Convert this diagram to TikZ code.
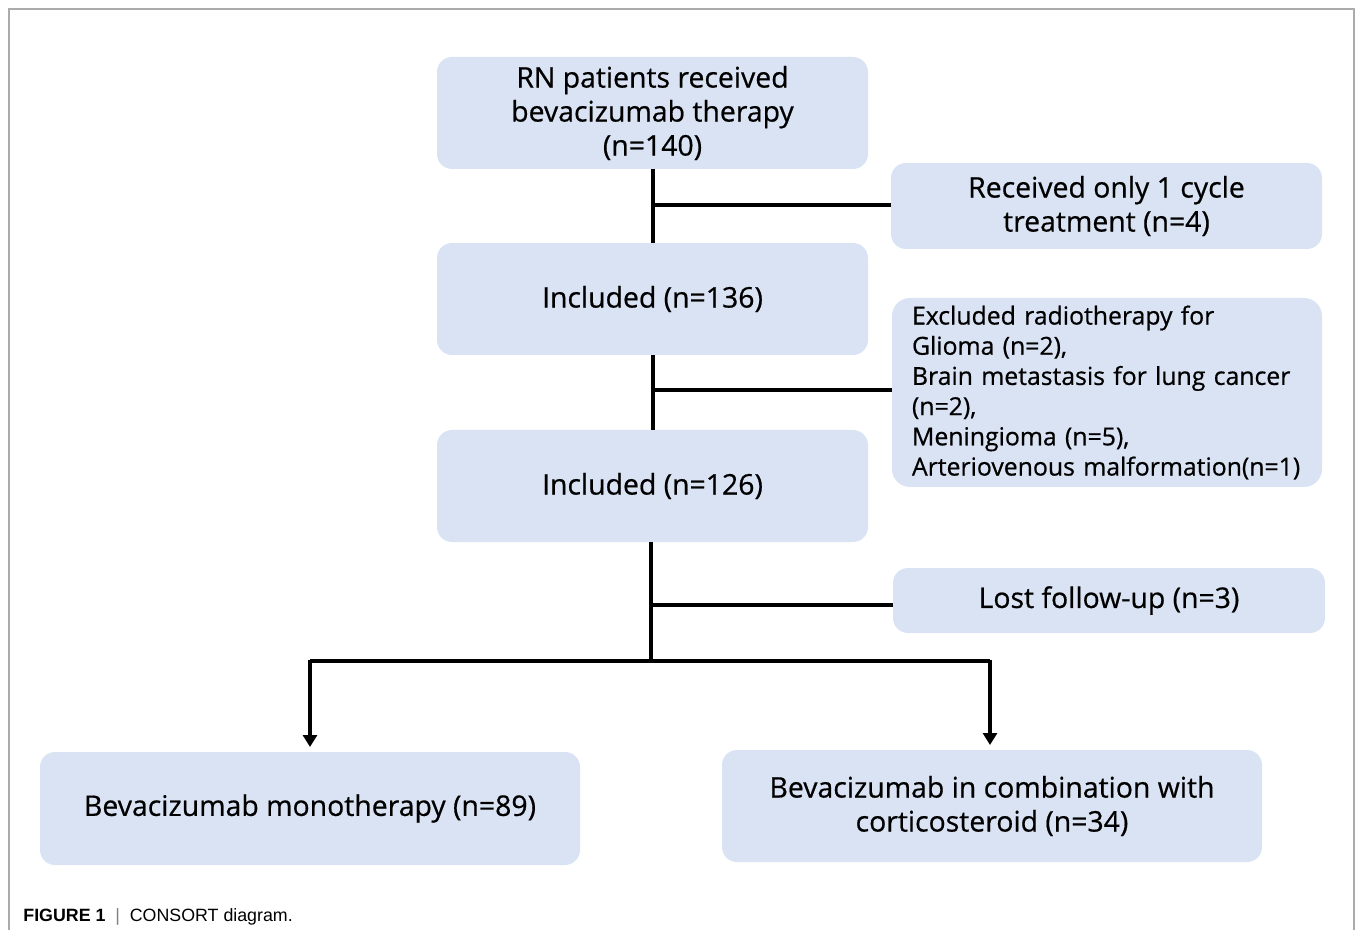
\documentclass[tikz,border=0pt]{standalone}
\usepackage{fontspec}
\setmainfont[FakeBold=0.6]{Open Sans}
\newfontfamily\capfont{Liberation Sans}
\usetikzlibrary{arrows.meta}
\definecolor{boxblue}{HTML}{DAE3F3}
\definecolor{framegray}{HTML}{ABABAB}
\tikzset{
  box/.style={fill=boxblue, draw=none, rounded corners=7.5pt, align=center,
    font=\fontsize{14.2}{17}\selectfont, inner sep=0pt},
  smallbox/.style={fill=boxblue, draw=none, rounded corners=9pt, align=left,
    font=\fontsize{12.4}{15.1}\selectfont, inner xsep=10pt, inner ysep=0pt},
  conn/.style={line width=2pt},
  arr/.style={line width=2pt, -{Triangle[length=6pt,width=7pt]}, shorten >=2.5pt},
  frame/.style={draw=framegray, line width=0.8pt}
}
\begin{document}
\begin{tikzpicture}[x=0.5pt,y=-0.5pt]
\useasboundingbox (0,0) rectangle (1355,930);
\draw[frame] (9,930) -- (9,9) -- (1354,9) -- (1354,930);

\node[box, minimum width=215.5pt, minimum height=56pt] (b1) at (652.5,113)
  {RN patients received\\bevacizumab therapy\\(n=140)};
\node[box, minimum width=215.5pt, minimum height=43pt] (r1) at (1106.5,206)
  {Received only 1 cycle\\treatment (n=4)};
\node[box, minimum width=215.5pt, minimum height=56pt] (b2) at (652.5,299)
  {Included (n=136)};
\node[smallbox, text width=195pt, minimum height=94.5pt] (r2) at (1107,392.5)
  {Excluded radiotherapy for\\Glioma (n=2),\\Brain metastasis for lung cancer\\(n=2),\\Meningioma (n=5),\\Arteriovenous malformation(n=1)};
\node[box, minimum width=215.5pt, minimum height=56pt] (b3) at (652.5,486)
  {Included (n=126)};
\node[box, minimum width=216pt, minimum height=32.5pt] (r3) at (1109,600.5)
  {Lost follow-up (n=3)};
\node[box, minimum width=270pt, minimum height=56.5pt] (left) at (310,808.5)
  {Bevacizumab monotherapy (n=89)};
\node[box, minimum width=270pt, minimum height=56pt] (right) at (992,806)
  {Bevacizumab in combination with\\corticosteroid (n=34)};

\coordinate (split) at (651,661);
\coordinate (j1) at (652.5,205);
\coordinate (j2) at (652.5,390);
\coordinate (j3) at (651,605);

\draw[conn] (b1.south) -- (b2.north);
\draw[conn] (j1) -- (j1 -| r1.west);
\draw[conn] (b2.south) -- (b3.north);
\draw[conn] (j2) -- (j2 -| r2.west);
\draw[conn] (b3.south -| split) -- (split);
\draw[conn] (j3) -- (j3 -| r3.west);
\draw[conn] (310,661) -- (990,661);
\draw[arr] (310,660) -- (310,752);
\draw[arr] (990,660) -- (990,750);

\node[anchor=base west, inner sep=0pt, font=\capfont\fontsize{8.9}{10}\selectfont] (cap) at (23,921)
  {\textbf{FIGURE 1}\ \ \textcolor{gray}{|}\ \ CONSORT diagram.};
\end{tikzpicture}
\end{document}
